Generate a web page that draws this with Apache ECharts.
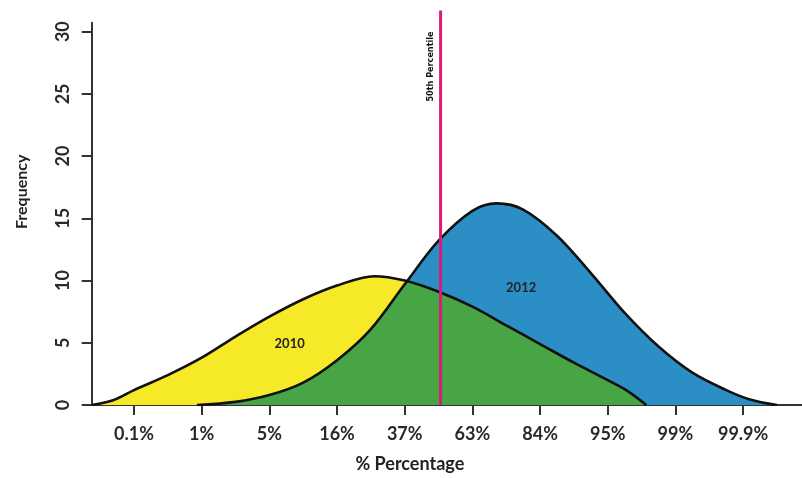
<!DOCTYPE html>
<html>
<head>
<meta charset="utf-8">
<script src="https://cdn.jsdelivr.net/npm/echarts@6/dist/echarts.min.js"></script>
<style>
  html, body { margin: 0; padding: 0; background: #fff; }
  #chart { width: 802px; height: 478px; }
</style>
</head>
<body>
<div id="chart"></div>
<script>
// x positions are in "tick units": 0 = first percentile tick, 9 = last
const pctLabels = ["0.1%", "1%", "5%", "16%", "37%", "63%", "84%", "95%", "99%", "99.9%"];
const pctTicks = [0, 1, 2, 3, 4, 5, 6, 7, 8, 9];
const yTicks = [0, 5, 10, 15, 20, 25, 30];

const freq2010 = [[-0.62, 0], [-0.3, 0.4], [0, 1.2], [0.5, 2.4], [1, 3.8], [1.5, 5.5], [2, 7.1],
  [2.5, 8.5], [3, 9.6], [3.55, 10.35], [4, 10.0], [4.5, 9.1], [5, 7.9], [5.5, 6.4], [6, 4.9],
  [6.5, 3.4], [7, 2.0], [7.3, 1.1], [7.57, 0]];
const freq2012 = [[0.93, 0], [1.5, 0.25], [2, 0.8], [2.5, 1.8], [3, 3.6], [3.5, 6.1], [4, 9.7],
  [4.5, 13.2], [5, 15.6], [5.36, 16.2], [5.75, 15.7], [6.25, 13.6], [6.75, 10.6], [7.25, 7.4],
  [7.75, 4.7], [8.25, 2.6], [8.75, 1.2], [9.1, 0.45], [9.5, 0]];
const crossPoint = [4.04, 9.97];   // where the two curves meet
const median = [[4.53, 0], [4.53, 31.7]];

// overlap = under 2012 left of the crossing, under 2010 right of it
const overlap = freq2012.filter(p => p[0] < crossPoint[0])
  .concat([crossPoint], freq2010.filter(p => p[0] > crossPoint[0]));

const font = "Lato";
const smooth = 0.33;

function fill(data, color) {
  return {
    type: "line", data: data, smooth: smooth, symbol: "none", silent: true,
    lineStyle: { width: 0 }, areaStyle: { color: color, opacity: 1 }
  };
}
function outline(data, label, coord) {
  return {
    type: "line", data: data, smooth: smooth, symbol: "none", silent: true,
    lineStyle: { color: "#111", width: 2.6 },
    markPoint: {
      symbol: "circle", symbolSize: 0, silent: true,
      label: { show: true, position: "inside", formatter: label, color: "#222",
        fontFamily: font, fontWeight: "bold", fontSize: 13 },
      data: [{ coord: coord }]
    }
  };
}

const chart = echarts.init(document.getElementById("chart"));
chart.setOption({
  animation: false,
  grid: { left: 91.7, right: 0, top: 22.7, bottom: 70 },
  xAxis: {
    type: "value", min: -0.625, max: 9.87,
    name: "% Percentage", nameLocation: "middle", nameGap: 50,
    nameTextStyle: { fontFamily: font, fontSize: 18, fontWeight: "bold", color: "#222",
      padding: [0, 74, 0, 0] },
    axisLine: { onZero: false, lineStyle: { color: "#333", width: 2 } },
    axisTick: { customValues: pctTicks, length: 10, lineStyle: { color: "#333", width: 2 } },
    axisLabel: { customValues: pctTicks, margin: 20, formatter: v => pctLabels[Math.round(v)],
      fontFamily: font, fontSize: 18, fontWeight: "bold", color: "#2a2a2a" },
    splitLine: { show: false }
  },
  yAxis: {
    type: "value", min: 0, max: 30.72,
    name: "Frequency", nameLocation: "middle", nameGap: 62,
    nameTextStyle: { fontFamily: font, fontSize: 16, fontWeight: "bold", color: "#222",
      padding: [0, 0, 0, 44] },
    axisLine: { show: true, onZero: false, lineStyle: { color: "#333", width: 2 } },
    axisTick: { show: true, customValues: yTicks, length: 10, lineStyle: { color: "#333", width: 2 } },
    axisLabel: { customValues: yTicks, rotate: 90, margin: 20,
      fontFamily: font, fontSize: 18, fontWeight: "bold", color: "#2a2a2a" },
    splitLine: { show: false }
  },
  series: [
    fill(freq2010, "#f5e928"),
    fill(freq2012, "#2b8fc6"),
    fill(overlap, "#47a546"),
    outline(freq2010, "2010", [2.3, 4.9]),
    outline(freq2012, "2012", [5.72, 9.4]),
    {
      type: "line", data: median, symbol: "none", clip: false, silent: true,
      lineStyle: { color: "#d81b7b", width: 3 },
      markPoint: {
        symbol: "circle", symbolSize: 0, silent: true,
        label: { show: true, position: "inside", rotate: 90, offset: [0, -10],
          formatter: "50th Percentile", color: "#111",
          fontFamily: "'DejaVu Sans Condensed', 'Noto Sans', sans-serif",
          fontWeight: "bold", fontSize: 9 },
        data: [{ coord: [4.53, 27.2] }]
      }
    }
  ]
});
</script>
</body>
</html>
